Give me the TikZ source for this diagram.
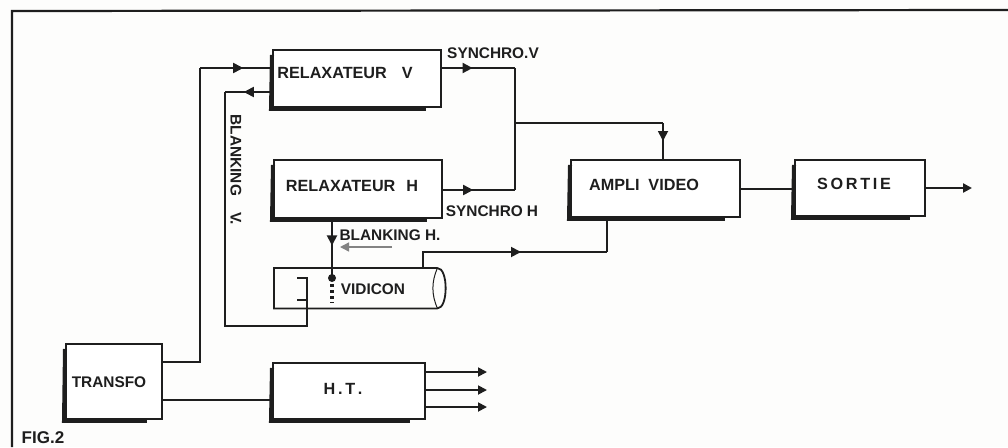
\documentclass[tikz,border=0pt]{standalone}
\usepackage{fontspec}
\setmainfont{Liberation Sans}
\usetikzlibrary{arrows.meta,decorations.markings}
\definecolor{ink}{HTML}{1E1E1E}
\definecolor{paper}{HTML}{FDFDFC}
\tikzset{
  x=1pt,y=-1pt,
  bloc/.style={draw=ink,line width=1.9pt,fill=white,inner sep=0pt},
  ombre/.style={draw=ink,line width=4pt,line cap=butt},
  fil/.style={draw=ink,line width=1.8pt,line join=miter},
  gros/.style={draw=ink,line width=2.6pt,line join=miter},
  tag/.style={font=\fontsize{16.2}{17}\selectfont\bfseries,text=ink,inner sep=0pt},
  small/.style={font=\fontsize{15.4}{16}\selectfont\bfseries,text=ink,inner sep=0pt},
  midarrow/.style={postaction={decorate},decoration={markings,mark=at position #1 with {\arrow{Triangle[length=10pt,width=10pt]}}}},
  tip/.style={-{Triangle[length=9pt,width=9pt]}}
}
\newcommand{\bx}[5]{% name x1 y1 x2 y2
  \node[bloc,anchor=north west,minimum width=\dimexpr #4pt-#2pt\relax,minimum height=\dimexpr #5pt-#3pt\relax] (#1) at (#2,#3) {};
  \draw[ombre] ([yshift=-6pt]#1.north west) -- ([xshift=-1pt,yshift=-1pt]#1.south west) -- ([xshift=-16pt,yshift=-1pt]#1.south east);
}
\begin{document}
\begin{tikzpicture}
\useasboundingbox (0,0) rectangle (1008,447);
\fill[paper] (0,0) rectangle (1008,447);
% frame
\coordinate (fa) at (12,447); \coordinate (fb) at (12,11); \coordinate (fc) at (1008,10);
\draw[draw=ink,line width=2.2pt] (fa) -- (fb) -- (fc);
% boxes
\bx{rv}{272}{49}{440}{106}
\bx{rh}{273}{159}{441}{217}
\bx{tr}{65}{343}{161}{418}
\bx{ht}{272}{362}{424}{418}
\bx{av}{570}{159}{739}{216}
\bx{so}{794}{159}{924}{215}
% vidicon
\node[inner sep=0pt,anchor=north west,minimum width=171pt,minimum height=40pt] (vd) at (274,268) {};
\draw[fil] ([xshift=-8pt]vd.north east) -- (vd.north west) -- (vd.south west) -- ([xshift=-8pt]vd.south east)
  .. controls ([xshift=3pt]vd.south east) and ([xshift=3pt]vd.north east) .. ([xshift=-8pt]vd.north east);
\draw[draw=ink,line width=1pt] ([xshift=-8pt]vd.north east) .. controls ([xshift=-14pt,yshift=-14pt]vd.north east) and ([xshift=-14pt,yshift=14pt]vd.south east) .. ([xshift=-8pt]vd.south east);
% labels
\node[tag] (t1) at (345,73) {RELAXATEUR\hspace{15pt}V};
\node[tag] (t2) at (352,186) {RELAXATEUR\hspace{11pt}H};
\node[small] (t3) at (493,53) {SYNCHRO.V};
\node[small] (t4) at (492,211) {SYNCHRO\hspace{4pt}H};
\node[small] (t5) at (390,235) {BLANKING H.};
\node[small] (t6) at (373,289) {VIDICON};
\node[small,rotate=-90] (t7) at (236,170) {BLANKING\hspace{16pt}V.};
\node[small] (t8) at (109,382) {TRANSFO};
\node[tag] (t9) at (343,389) {H\,.\,T\,.};
\node[tag] (t10) at (644,185) {AMPLI\hspace{9pt}VIDEO};
\node[tag] (t11) at (854,184) {S\,O\,R\,T\,I\,E};
\node[tag,font=\fontsize{17}{18}\selectfont\bfseries] (t12) at (43,438) {FIG.2};
% connectors
\coordinate (a1) at (200,362);
\coordinate (a2) at (200,68);
\draw[gros] (tr.east |- a1) -- (a1) -- (a2);
\draw[fil,midarrow=0.6] (a2) -- (rv.west |- a2);
\coordinate (b) at (0,400);
\draw[fil] (tr.east |- b) -- (ht.west |- b);
% blanking V
\coordinate (c1) at (225,92); \coordinate (c2) at (225,326); \coordinate (c3) at (307,326);
\coordinate (c4) at (307,278); \coordinate (c5) at (297,278); \coordinate (c6) at (297,300); \coordinate (c7) at (307,300);
\draw[fil,midarrow=0.6] (rv.west |- c1) -- (c1);
\draw[fil] (c1) -- (c2) -- (c3) -- (c4) -- (c5);
\draw[fil] (c6) -- (c7);
% synchro
\coordinate (d1) at (515,68); \coordinate (d2) at (515,190);
\draw[fil,midarrow=0.42] (rv.east |- d1) -- (d1);
\draw[fil,midarrow=0.42] (rh.east |- d2) -- (d2);
\draw[fil] (d1) -- (d2);
\coordinate (e1) at (515,123); \coordinate (e2) at (663,123);
\draw[gros] (e1) -- (e2);
\draw[fil,midarrow=0.5] (e2) -- (e2 |- av.north);
% blanking H
\coordinate (f1) at (332,278);
\draw[fil,midarrow=0.45] (f1 |- rh.south) -- (f1);
\fill[ink] (f1) circle (4pt);
\draw[draw=ink,line width=3.5pt,dash pattern=on 3pt off 3pt] (332,284) -- (332,303);
\coordinate (g1) at (340,247); \coordinate (g2) at (392,247);
\draw[draw=ink!55,line width=1.4pt,tip] (g2) -- (g1);
% vidicon to ampli
\coordinate (h1) at (423,252); \coordinate (h2) at (607,252);
\draw[fil,midarrow=0.57] (h1 |- vd.north) -- (h1) -- (h2);
\draw[fil] (h2) -- (h2 |- av.south);
% ampli to sortie
\coordinate (i) at (0,189);
\draw[fil] (av.east |- i) -- (so.west |- i);
% outputs
\coordinate (j) at (972,188);
\draw[draw=ink,line width=2.8pt,tip] (so.east |- j) -- (j);
\foreach \nm/\yy in {k1/372,k2/390,k3/407}{
  \coordinate (\nm) at (487,\yy);
  \draw[fil,tip] (ht.east |- \nm) -- (\nm);
}
\end{tikzpicture}
\end{document}
